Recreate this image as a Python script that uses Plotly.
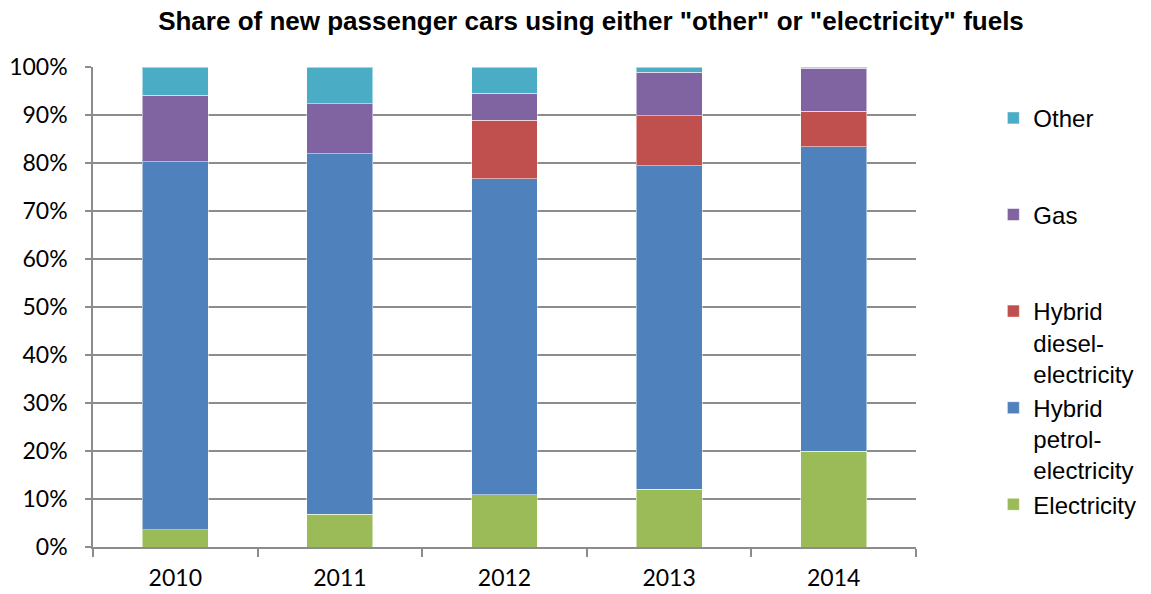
import plotly.graph_objects as go

years = ["2010", "2011", "2012", "2013", "2014"]
electricity = [3.6, 6.8, 10.9, 12.0, 20.0]
hybrid_petrol = [76.7, 75.1, 65.8, 67.4, 63.4]
hybrid_diesel = [0.0, 0.0, 12.2, 10.45, 7.35]
gas = [13.8, 10.45, 5.6, 9.1, 8.95]
other = [5.9, 7.65, 5.5, 1.05, 0.3]

series = [
    ("Electricity", electricity, "#9BBB59"),
    ("Hybrid<br>petrol-<br>electricity", hybrid_petrol, "#4F81BD"),
    ("Hybrid<br>diesel-<br>electricity", hybrid_diesel, "#C0504D"),
    ("Gas<br> <br> ", gas, "#8064A2"),
    ("Other<br> <br> ", other, "#4BACC6"),
]

fig = go.Figure()
for name, vals, color in series:
    fig.add_trace(go.Bar(
        x=years, y=[v / 100 for v in vals], name=name,
        marker=dict(color=color, line=dict(color="rgba(255,255,255,0.5)", width=1)),
    ))

grid = "#8c8c8c"
fig.update_layout(
    barmode="stack",
    bargap=0.6,
    width=1151, height=594,
    margin=dict(l=93, r=235, t=67, b=47, autoexpand=False),
    paper_bgcolor="white", plot_bgcolor="white",
    title=dict(
        text='<b>Share of new passenger cars using either "other" or "electricity" fuels</b>',
        x=591 / 1151, xanchor="center", xref="container",
        y=1 - 21 / 594, yanchor="middle", yref="container",
        font=dict(family="Liberation Sans, Arial", size=26, color="black"),
    ),
    legend=dict(
        traceorder="reversed", valign="top",
        x=1.094, xanchor="left", y=0.94, yanchor="top",
        font=dict(family="Liberation Sans, Arial", size=24, color="black"),
        tracegroupgap=0, itemclick=False,
    ),
    showlegend=True,
)
fig.update_yaxes(
    range=[0, 1], dtick=0.1, tickformat=".0%",
    showgrid=True, gridcolor=grid, gridwidth=1.5,
    showline=True, linecolor=grid, linewidth=1.5,
    ticks="outside", ticklen=6, tickcolor=grid, tickwidth=1.5,
    tickfont=dict(family="Lato, Carlito, Calibri", size=23, color="black"),
    ticklabelstandoff=13, automargin=False,
    zeroline=False,
)
fig.update_xaxes(
    showline=True, linecolor=grid, linewidth=1.5,
    ticks="outside", tickson="boundaries", ticklen=8, tickcolor=grid, tickwidth=1.5,
    tickfont=dict(family="Lato, Carlito, Calibri", size=23, color="black"),
    ticklabelstandoff=10, automargin=False,
)

fig.write_html("out.html")
